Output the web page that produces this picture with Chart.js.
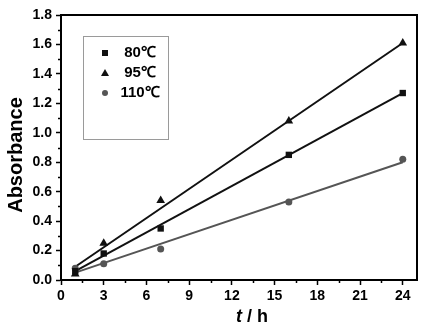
<!DOCTYPE html>
<html>
<head>
<meta charset="utf-8">
<script src="https://cdn.jsdelivr.net/npm/chart.js@4/dist/chart.umd.min.js"></script>
<style>
  html, body { margin: 0; padding: 0; background: #fff; }
  #plot { display: block; }
</style>
</head>
<body>
<canvas id="plot" width="427" height="327"></canvas>
<script>
// measured absorbance vs. time at three temperatures
const hours = [1, 3, 7, 16, 24];
const abs80 = [0.06, 0.18, 0.35, 0.85, 1.27];
const abs95 = [0.04, 0.25, 0.54, 1.08, 1.61];
const abs110 = [0.08, 0.11, 0.21, 0.53, 0.82];

// linear fit end values at t = 1 h and t = 24 h
const fitHours = [1, 24];
const fit80 = [0.06, 1.27];
const fit95 = [0.09, 1.61];
const fit110 = [0.05, 0.80];

const seriesLabels = ["80℃", "95℃", "110℃"];
const xTickValues = [0, 3, 6, 9, 12, 15, 18, 21, 24];
const yTickValues = [0, 0.2, 0.4, 0.6, 0.8, 1.0, 1.2, 1.4, 1.6, 1.8];

const FONT = "'Liberation Sans', Arial, sans-serif";
const dark = "#111";
const grey = "#555";

const pts = (xs, ys) => xs.map((x, i) => ({ x, y: ys[i] }));

function markerSet(label, data, style, color, radius) {
  return {
    label, data, showLine: false,
    pointStyle: style, pointRadius: radius,
    pointBackgroundColor: color, pointBorderColor: color, pointBorderWidth: 0
  };
}

function fitLine(data, color) {
  return {
    data, showLine: true, pointRadius: 0,
    borderColor: color, borderWidth: 2, fill: false
  };
}

// frame, minor ticks, axis titles and the boxed legend
const decorations = {
  id: "decorations",
  afterDraw(chart) {
    const { ctx, chartArea: a, scales } = chart;
    ctx.save();
    ctx.strokeStyle = "#000";
    ctx.lineWidth = 2;
    ctx.strokeRect(a.left, a.top, a.right - a.left, a.bottom - a.top);

    ctx.lineWidth = 1.5;
    ctx.beginPath();
    for (let v = 1.5; v < 25; v += 3) {
      const x = Math.round(scales.x.getPixelForValue(v)) + 0.5;
      ctx.moveTo(x, a.bottom);
      ctx.lineTo(x, a.bottom + 3);
    }
    for (let v = 0.1; v < 1.8; v += 0.2) {
      const y = Math.round(scales.y.getPixelForValue(v)) + 0.5;
      ctx.moveTo(a.left, y);
      ctx.lineTo(a.left - 3, y);
    }
    ctx.stroke();

    // y title
    ctx.fillStyle = "#000";
    ctx.save();
    ctx.translate(16, 155);
    ctx.rotate(-Math.PI / 2);
    ctx.font = "bold 20px " + FONT;
    ctx.textAlign = "center";
    ctx.textBaseline = "middle";
    ctx.fillText("Absorbance", 0, 0);
    ctx.restore();

    // x title: italic t, then " / h"
    ctx.textBaseline = "alphabetic";
    ctx.textAlign = "left";
    const tFont = "italic bold 18px " + FONT;
    const restFont = "bold 18px " + FONT;
    ctx.font = tFont;
    const tw = ctx.measureText("t").width;
    ctx.font = restFont;
    const rw = ctx.measureText(" / h").width;
    let x0 = 252 - (tw + rw) / 2;
    ctx.font = tFont;
    ctx.fillText("t", x0, 322);
    ctx.font = restFont;
    ctx.fillText(" / h", x0 + tw, 322);

    // legend box
    ctx.strokeStyle = "#9a9a9a";
    ctx.lineWidth = 1;
    ctx.strokeRect(83.5, 36.5, 85, 103);
    const rows = [53, 73, 93];
    const sets = chart.data.datasets.slice(0, 3);
    sets.forEach((ds, i) => {
      const y = rows[i];
      ctx.fillStyle = ds.pointBackgroundColor;
      ctx.beginPath();
      if (ds.pointStyle === "rect") {
        ctx.rect(102, y - 3, 6, 6);
      } else if (ds.pointStyle === "triangle") {
        ctx.moveTo(105, y - 4);
        ctx.lineTo(109, y + 3);
        ctx.lineTo(101, y + 3);
        ctx.closePath();
      } else {
        ctx.arc(105, y, 3, 0, Math.PI * 2);
      }
      ctx.fill();
      ctx.fillStyle = "#000";
      ctx.font = "bold 15px " + FONT;
      ctx.textAlign = "center";
      ctx.textBaseline = "middle";
      ctx.fillText(ds.label, 140, y);
    });
    ctx.restore();
  }
};

new Chart(document.getElementById("plot"), {
  type: "scatter",
  data: {
    datasets: [
      markerSet(seriesLabels[0], pts(hours, abs80), "rect", dark, 4.5),
      markerSet(seriesLabels[1], pts(hours, abs95), "triangle", dark, 5),
      markerSet(seriesLabels[2], pts(hours, abs110), "circle", grey, 3.5),
      fitLine(pts(fitHours, fit80), dark),
      fitLine(pts(fitHours, fit95), dark),
      fitLine(pts(fitHours, fit110), grey)
    ]
  },
  options: {
    responsive: false,
    animation: false,
    layout: { padding: { top: 15, right: 10, left: 0, bottom: 0 } },
    plugins: { legend: { display: false }, tooltip: { enabled: false } },
    scales: {
      x: {
        type: "linear", min: 0, max: 25,
        afterBuildTicks: (s) => { s.ticks = xTickValues.map((value) => ({ value })); },
        afterFit: (s) => { s.height = 47; },
        grid: { drawOnChartArea: false, drawTicks: true, tickLength: 5, tickColor: "#000", tickWidth: 1.5 },
        border: { display: true, color: "#000", width: 2 },
        ticks: { color: "#000", padding: 3, maxRotation: 0, font: { family: FONT, size: 14, weight: "bold" } }
      },
      y: {
        type: "linear", min: 0, max: 1.8,
        afterBuildTicks: (s) => { s.ticks = yTickValues.map((value) => ({ value })); },
        afterFit: (s) => { s.width = 61; },
        grid: { drawOnChartArea: false, drawTicks: true, tickLength: 5, tickColor: "#000", tickWidth: 1.5 },
        border: { display: true, color: "#000", width: 2 },
        ticks: {
          color: "#000", padding: 4,
          font: { family: FONT, size: 14, weight: "bold" },
          callback: (v) => Number(v).toFixed(1)
        }
      }
    }
  },
  plugins: [decorations]
});
</script>
</body>
</html>
